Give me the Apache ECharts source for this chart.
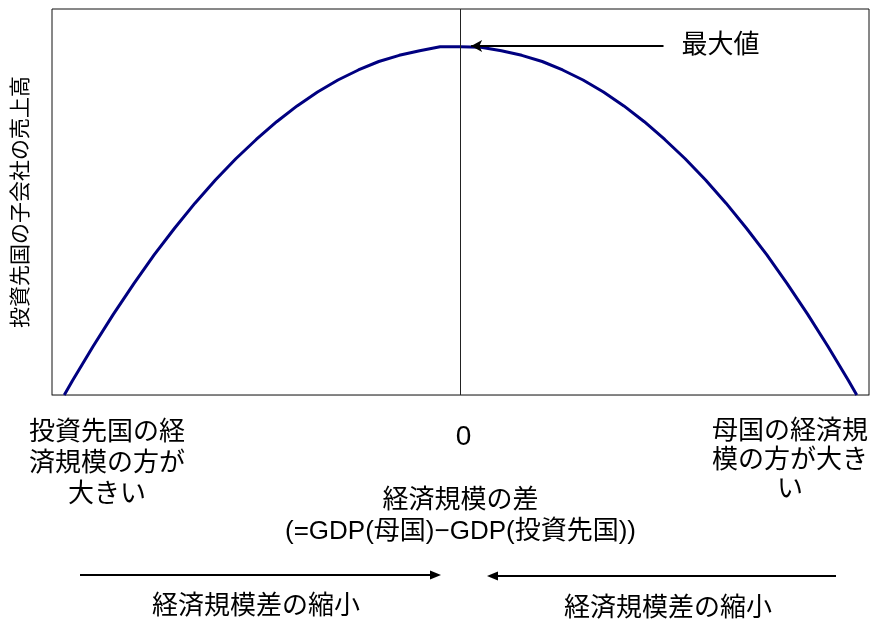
<!DOCTYPE html>
<html>
<head>
<meta charset="utf-8">
<script src="https://cdn.jsdelivr.net/npm/echarts@6/dist/echarts.min.js"></script>
<style>
html,body{margin:0;padding:0;background:#fff;}
#chart{width:872px;height:624px;}
</style>
</head>
<body>
<div id="chart"></div>
<script>
// Economic size difference (x) and subsidiary sales (y)
var gdpDiff = [-97,-95,-90,-85,-80,-75,-70,-65,-60,-55,-50,-45,-40,-35,-30,-25,-20,-15,-10,-5,0,5,10,15,20,25,30,35,40,45,50,55,60,65,70,75,80,85,90,95,97];
var sales   = [0,3.7,12.5,20.9,28.8,36.3,43.2,49.7,55.7,61.2,66.2,70.8,74.9,78.5,81.6,84.2,86.4,88.0,89.2,90.2,90.2,90.1,89.2,88.0,86.4,84.2,81.6,78.5,74.9,70.8,66.2,61.2,55.7,49.7,43.2,36.3,28.8,20.9,12.5,3.7,0];
var xTickLabels = ['0'];
var peakLabel = '最大値';
var peakArrow = { fromX: 49.7, toX: 2.6, y: 90.4 };
var leftSideLabel = '投資先国の経\n済規模の方が\n大きい';
var rightSideLabel = '母国の経済規\n模の方が大き\nい';
var xAxisTitle = '経済規模の差\n(=GDP(母国)−GDP(投資先国))';
var yAxisTitle = '投資先国の子会社の売上高';
var shrinkLabel = '経済規模差の縮小';

var FONT = '"Liberation Sans", "Noto Sans CJK JP", sans-serif';
var points = gdpDiff.map(function (x, i) { return [x, sales[i]]; });

var chart = echarts.init(document.getElementById('chart'));
chart.setOption({
  animation: false,
  backgroundColor: '#fff',
  textStyle: { fontFamily: FONT },
  grid: { left: 52, right: 1, top: 9, bottom: 229, show: true, borderColor: '#111', borderWidth: 1 },
  xAxis: {
    type: 'value', min: -100, max: 100, interval: 100,
    axisLine: { show: true, lineStyle: { color: '#808080', width: 1 } },
    axisTick: { show: false }, splitLine: { show: false },
    axisLabel: {
      margin: 28, color: '#000', fontFamily: FONT, padding: [0, 0, 0, 6],
      formatter: function (v) { return v === 0 ? '{z|' + xTickLabels[0] + '}' : ''; },
      rich: { z: { fontSize: 28, fontFamily: FONT, color: '#000' } }
    },
    name: xAxisTitle, nameLocation: 'middle', nameGap: 90,
    nameTextStyle: { fontSize: 26, color: '#000', lineHeight: 31, fontFamily: FONT }
  },
  yAxis: {
    type: 'value', min: 0, max: 100,
    axisLine: { show: true, lineStyle: { color: '#808080', width: 1 } },
    axisTick: { show: false }, splitLine: { show: false }, axisLabel: { show: false },
    name: yAxisTitle, nameLocation: 'middle', nameRotate: 90, nameGap: 20,
    nameTextStyle: { fontSize: 21, color: '#000', fontFamily: FONT }
  },
  series: [{
    type: 'line',
    data: points,
    showSymbol: false,
    smooth: false,
    lineStyle: { color: '#000080', width: 3 },
    z: 3,
    markLine: {
      silent: true,
      animation: false,
      label: { show: false },
      emphasis: { disabled: true },
      data: [
        [
          { coord: [0, 0], symbol: 'none', lineStyle: { color: '#222', width: 1, type: 'solid' } },
          { coord: [0, 100], symbol: 'none' }
        ],
        [
          { coord: [peakArrow.fromX, peakArrow.y], symbol: 'none',
            lineStyle: { color: '#000', width: 2, type: 'solid' },
            label: { show: true, position: 'start', formatter: peakLabel, fontSize: 26, color: '#000', distance: 18, fontFamily: FONT } },
          { coord: [peakArrow.toX, peakArrow.y], symbol: 'arrow', symbolSize: [9, 11] }
        ]
      ]
    }
  }],
  graphic: [
    { type: 'text', x: 107, y: 417, style: { text: leftSideLabel, font: '26px ' + FONT, fill: '#000', align: 'center', lineHeight: 31 } },
    { type: 'text', x: 790, y: 417, style: { text: rightSideLabel, font: '26px ' + FONT, fill: '#000', align: 'center', lineHeight: 29 } },
    { type: 'text', x: 256, y: 607, style: { text: shrinkLabel, font: '26px ' + FONT, fill: '#000', align: 'center', verticalAlign: 'middle' } },
    { type: 'text', x: 668, y: 609, style: { text: shrinkLabel, font: '26px ' + FONT, fill: '#000', align: 'center', verticalAlign: 'middle' } },
    { type: 'line', shape: { x1: 80, y1: 575, x2: 432, y2: 575 }, style: { stroke: '#000', lineWidth: 2 } },
    { type: 'polygon', shape: { points: [[441, 575], [430, 570.5], [430, 579.5]] }, style: { fill: '#000' } },
    { type: 'line', shape: { x1: 836, y1: 576, x2: 496, y2: 576 }, style: { stroke: '#000', lineWidth: 2 } },
    { type: 'polygon', shape: { points: [[487, 576], [498, 571.5], [498, 580.5]] }, style: { fill: '#000' } }
  ]
});
</script>
</body>
</html>
